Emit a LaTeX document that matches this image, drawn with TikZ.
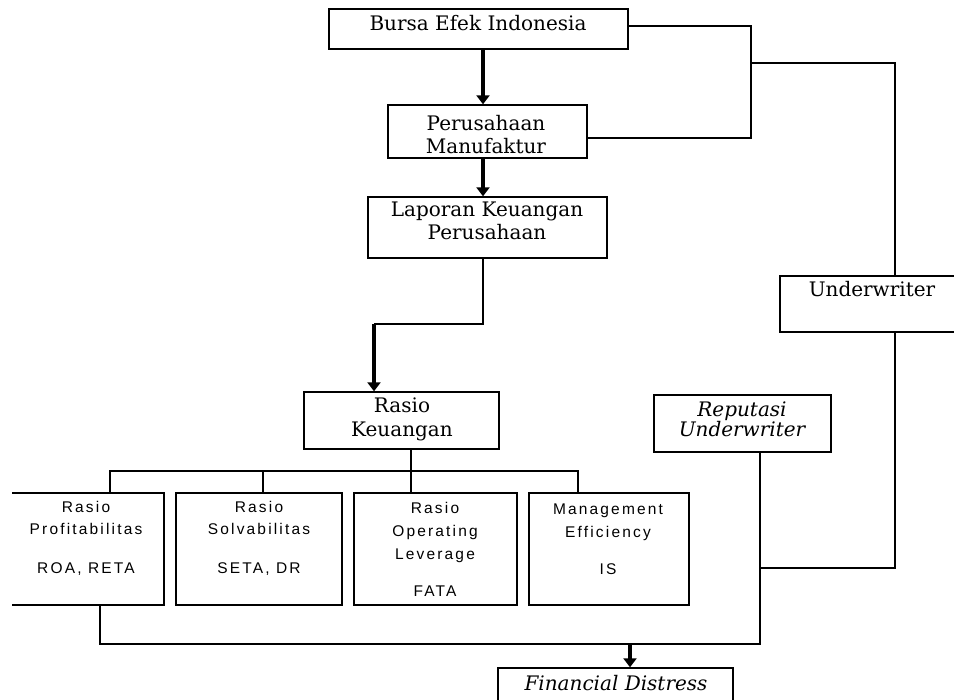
\documentclass[tikz,border=0pt]{standalone}
\usepackage{fontspec}
\setmainfont{DejaVu Serif}
\newfontfamily\sansf[LetterSpace=14]{Liberation Sans}
\usetikzlibrary{arrows.meta}
\begin{document}
\begin{tikzpicture}[x=1pt,y=-1pt,
  box/.style={draw, line width=1.4pt, inner sep=0pt},
  ser/.style={font=\fontsize{20}{24}\selectfont, inner sep=0pt, anchor=base},
  seri/.style={font=\fontsize{20}{24}\selectfont\itshape, inner sep=0pt, anchor=base},
  sans/.style={font=\sansf\fontsize{15.5}{18}\selectfont, inner sep=0pt, anchor=base},
  ln/.style={line width=1.3pt},
  arr/.style={line width=3.3pt, -{Triangle[width=13pt,length=9pt]}}
]
\useasboundingbox (0,0) rectangle (954,700);
\clip (0,0) rectangle (954,700);
\fill[white] (0,0) rectangle (954,700);

% boxes
\node[box, minimum width=299pt, minimum height=40pt] (bei) at (478.5,29) {};
\node[box, minimum width=199pt, minimum height=53pt] (pm) at (487.5,131.5) {};
\node[box, minimum width=239pt, minimum height=61pt] (lk) at (487.5,227.5) {};
\node[box, minimum width=195pt, minimum height=57pt] (rk) at (401.5,420.5) {};
\node[box, minimum width=190pt, minimum height=56pt] (uw) at (875,304) {};
\node[box, minimum width=177pt, minimum height=57pt] (rep) at (742.5,423.5) {};
\begin{scope}
  \clip (12,0) rectangle (954,700);
  \node[box, minimum width=153pt, minimum height=112pt] (b1) at (87.5,549) {};
\end{scope}
\node[box, minimum width=166pt, minimum height=112pt] (b2) at (259,549) {};
\node[box, minimum width=163pt, minimum height=112pt] (b3) at (435.5,549) {};
\node[box, minimum width=160pt, minimum height=112pt] (b4) at (609,549) {};
\node[box, minimum width=235pt, minimum height=52pt] (fd) at (615.5,694) {};

% texts
\node[ser] (tbei) at (478,31) {Bursa Efek Indonesia};
\node[ser] (tpm1) at (486,131) {Perusahaan};
\node[ser] (tpm2) at (486,154) {Manufaktur};
\node[ser] (tlk1) at (487,217) {Laporan Keuangan};
\node[ser] (tlk2) at (487,240) {Perusahaan};
\node[ser] (trk1) at (402,413) {Rasio};
\node[ser] (trk2) at (402,437) {Keuangan};
\node[ser] (tuw) at (872,297) {Underwriter};
\node[seri] (trep1) at (742,417) {Reputasi};
\node[seri] (trep2) at (742,437) {Underwriter};
\node[seri] (tfd) at (616,690) {Financial Distress};

\node[sans] (tb11) at (86,513) {Rasio};
\node[sans] (tb12) at (86,535) {Profitabilitas};
\node[sans] (tb13) at (86,573) {ROA, RETA};
\node[sans] (tb21) at (259,513) {Rasio};
\node[sans] (tb22) at (259,535) {Solvabilitas};
\node[sans] (tb23) at (259,574) {SETA, DR};
\node[sans] (tb31) at (435,514) {Rasio};
\node[sans] (tb32) at (435,537) {Operating};
\node[sans] (tb33) at (435,560) {Leverage};
\node[sans] (tb34) at (435,597) {FATA};
\node[sans] (tb41) at (608,515) {Management};
\node[sans] (tb42) at (608,538) {Efficiency};
\node[sans] (tb43) at (608,575) {IS};

% junction coordinates
\coordinate (a1) at (483,0);
\coordinate (j1) at (483,324);
\coordinate (j2) at (374,324);
\coordinate (v1) at (411,471);
\coordinate (t1) at (110,471);
\coordinate (t2) at (263,471);
\coordinate (t3) at (411,471);
\coordinate (t4) at (578,471);
\coordinate (r1) at (751,26);
\coordinate (r2) at (751,138);
\coordinate (r3) at (751,63);
\coordinate (r4) at (895,63);
\coordinate (u1) at (895,568);
\coordinate (u2) at (760,568);
\coordinate (q1) at (760,644);
\coordinate (q2) at (100,644);
\coordinate (f1) at (630,644);

% connectors
\draw[arr] (bei.south -| a1) -- (pm.north -| a1);
\draw[arr] (pm.south -| a1) -- (lk.north -| a1);
\draw[ln] (lk.south -| j1) -- (j1) -- (j2);
\draw[arr] (j2) -- (rk.north -| j2);
\draw[ln] (rk.south -| v1) -- (v1);
\draw[ln] (b1.north -| t1) -- (t1) -- (t4) -- (b4.north -| t4);
\draw[ln] (t2) -- (b2.north -| t2);
\draw[ln] (t3) -- (b3.north -| t3);
\draw[ln] (bei.east |- r1) -- (r1) -- (r2) -- (pm.east |- r2);
\draw[ln] (r3) -- (r4) -- (uw.north -| r4);
\draw[ln] (uw.south -| u1) -- (u1) -- (u2);
\draw[ln] (rep.south -| q1) -- (q1) -- (q2) -- (b1.south -| q2);
\draw[arr] (f1) -- (fd.north -| f1);
\end{tikzpicture}
\end{document}
